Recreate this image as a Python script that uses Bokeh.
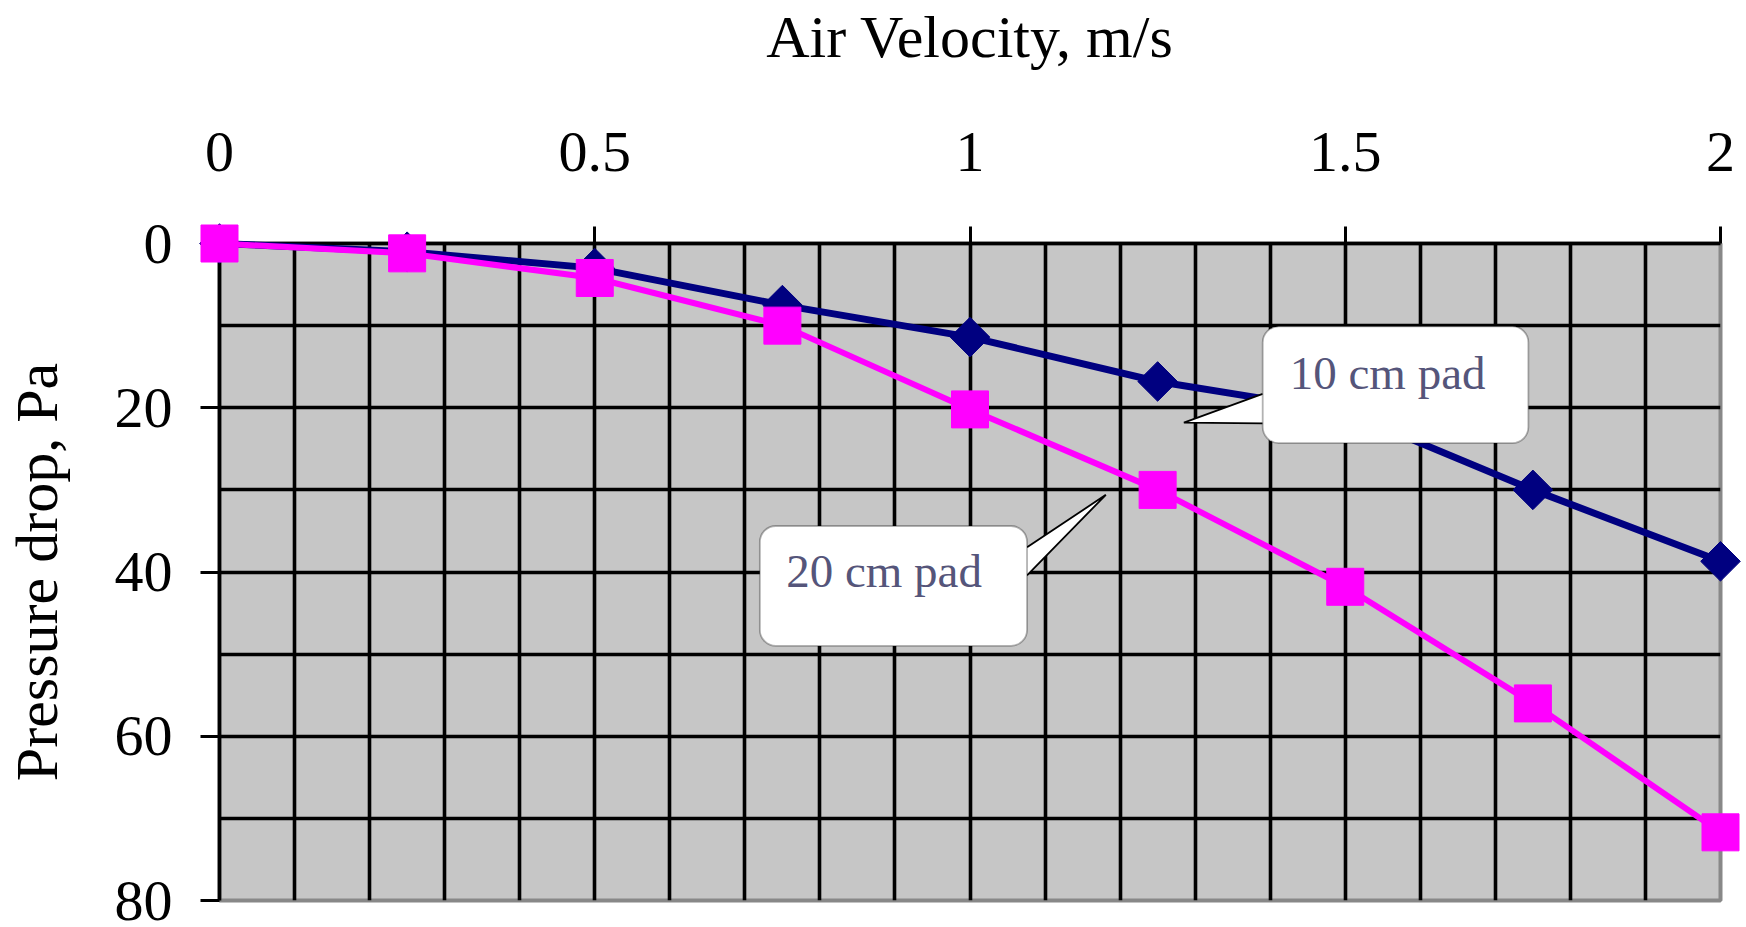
import numpy as np
from bokeh.plotting import figure
from bokeh.models import Range1d, FixedTicker, BoxAnnotation, Label, NumeralTickFormatter
from bokeh.embed import file_html
from bokeh.resources import INLINE

# ---- data ----
velocity = [0, 0.25, 0.5, 0.75, 1.0, 1.25, 1.5, 1.75, 2.0]
drop_10cm = [0, 1.0, 3.0, 7.5, 11.4, 16.8, 20.5, 30.0, 38.7]
drop_20cm = [0, 1.2, 4.2, 10.0, 20.2, 30.0, 41.8, 56.0, 71.7]
x_ticks = [0, 0.5, 1, 1.5, 2]
y_ticks = [0, 20, 40, 60, 80]
x_grid = [0.1, 0.2, 0.3, 0.4, 0.5, 0.6, 0.7, 0.8, 0.9, 1.0,
          1.1, 1.2, 1.3, 1.4, 1.5, 1.6, 1.7, 1.8, 1.9]
y_grid = [10, 20, 30, 40, 50, 60, 70]
x_title = "Air Velocity, m/s"
y_title = "Pressure drop, Pa"
series_names = ["10 cm pad", "20 cm pad"]

FONT = "Liberation Serif"

p = figure(width=1746, height=927, output_backend="svg", toolbar_location=None,
           x_range=Range1d(0, 2), y_range=Range1d(80, 0),
           x_axis_location="above",
           min_border_left=219, min_border_right=26,
           min_border_top=240, min_border_bottom=27)
p.title = None
p.background_fill_color = "#C6C6C6"
p.border_fill_color = "white"
p.outline_line_color = "#888888"
p.outline_line_width = 4

# grid
p.xgrid.ticker = FixedTicker(ticks=x_grid)
p.ygrid.ticker = FixedTicker(ticks=y_grid)
for g in (p.xgrid, p.ygrid):
    g.grid_line_color = "black"
    g.grid_line_width = 3.6
    g.grid_line_alpha = 1.0

# axes
p.xaxis.ticker = FixedTicker(ticks=x_ticks)
p.xaxis.formatter = NumeralTickFormatter(format="0.[0]")
p.yaxis.ticker = FixedTicker(ticks=y_ticks)
for ax in (p.xaxis, p.yaxis):
    ax.axis_line_color = "black"
    ax.axis_line_width = 3.6
    ax.major_tick_line_color = "black"
    ax.major_tick_line_width = 3
    ax.major_tick_in = 0
    ax.minor_tick_line_color = None
    ax.major_label_text_font = FONT
    ax.major_label_text_font_size = "58px"
    ax.major_label_text_color = "black"
    ax.axis_label_text_font = FONT
    ax.axis_label_text_font_size = "60px"
    ax.axis_label_text_font_style = "normal"
    ax.axis_label_text_color = "black"
p.xaxis.axis_label = x_title
p.yaxis.axis_label = y_title
p.xaxis.major_tick_out = 17
p.yaxis.major_tick_out = 19
p.xaxis.major_label_standoff = 56
p.yaxis.major_label_standoff = 28
p.xaxis.axis_label_standoff = 60
p.yaxis.axis_label_standoff = 42

# series
p.line(velocity, drop_10cm, line_color="#000080", line_width=7, level="overlay")
p.scatter(velocity, drop_10cm, marker="square", angle=np.pi / 4, size=28,
          fill_color="#000080", line_color="#000080", level="overlay")
p.line(velocity, drop_20cm, line_color="#FF00FF", line_width=6, level="overlay")
p.scatter(velocity, drop_20cm, marker="square", size=37,
          fill_color="#FF00FF", line_color="#FF00FF", level="overlay")

# callouts (box, pointer, text)
callouts = [
    dict(text=series_names[0], box=(1.39, 1.744, 10.1, 24.3),
         ptr_x=[1.39, 1.285, 1.39], ptr_y=[18.3, 21.8, 21.9], inner=0.02,
         tx=1.426, ty=15.8),
    dict(text=series_names[1], box=(0.72, 1.076, 34.4, 49.0),
         ptr_x=[1.076, 1.181, 1.076], ptr_y=[37.0, 30.6, 40.4], inner=-0.02,
         tx=0.755, ty=39.9),
]
for c in callouts:
    l, r, t, b = c["box"]
    p.add_layout(BoxAnnotation(left=l, right=r, top=t, bottom=b,
                               fill_color="white", fill_alpha=1.0,
                               line_color="black", line_width=1.8,
                               border_radius=16, level="overlay"))
    px, py = c["ptr_x"], c["ptr_y"]
    edge = px[0] + c["inner"]
    p.patch([edge, px[0], px[1], px[2], edge], [py[0], py[0], py[1], py[2], py[2]],
            fill_color="white", line_alpha=0, level="overlay")
    p.line(px, py, line_color="black", line_width=1.8, level="overlay")
    p.add_layout(Label(x=c["tx"], y=c["ty"], text=c["text"], text_font=FONT,
                       text_font_size="47px", text_color="#55557A",
                       text_baseline="alphabetic", level="overlay"))

open("out.html", "w").write(file_html(p, INLINE))
